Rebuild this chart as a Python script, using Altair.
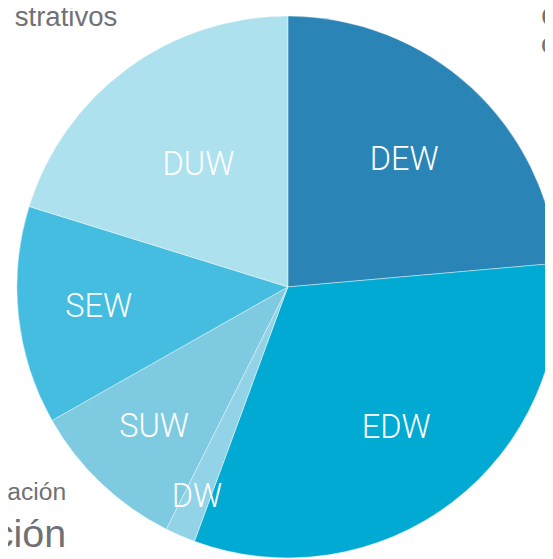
import altair as alt
import pandas as pd

# ---- data ----
categories = ["DEW", "EDW", "DW", "SUW", "SEW", "DUW"]
shares = [23.6, 32.0, 1.8, 9.4, 13.0, 20.2]

# ---- layout / style (kept separate from data) ----
slice_colors = ["#2A85B6", "#00AAD2", "#92D3E8", "#7ECAE1", "#44BDE0", "#ADE1EE"]
label_radius = [175, 181, 232, 197, 193, 153]
CX, CY, R = 284, 279, 275
W, H = 545, 551

df = pd.DataFrame({
    "cat": categories,
    "share": shares,
    "order": list(range(len(categories))),
    "lr": label_radius,
})

color_scale = alt.Scale(domain=categories, range=slice_colors)

arcs = alt.Chart(df).mark_arc(radius=R, stroke="white", strokeWidth=0.6, strokeOpacity=0.7).encode(
    theta=alt.Theta("share:Q", stack=True),
    order=alt.Order("order:Q"),
    color=alt.Color("cat:N", scale=color_scale, legend=None),
    x=alt.value(CX),
    y=alt.value(CY),
)

labels = alt.Chart(df).transform_window(
    cum="sum(share)", sort=[alt.SortField("order")], frame=[None, 0]
).transform_joinaggregate(
    total="sum(share)"
).transform_calculate(
    mid="(datum.cum - datum.share / 2) / datum.total"
).mark_text(
    font="Roboto, Liberation Sans, sans-serif",
    fontSize=33,
    fontWeight=300,
    color="white",
    align="center",
    baseline="middle",
).encode(
    theta=alt.Theta("mid:Q", scale=alt.Scale(domain=[0, 1]), stack=None),
    radius=alt.Radius("lr:Q", scale=None),
    text="cat:N",
    x=alt.value(CX),
    y=alt.value(CY),
)

GRAY = "#707174"
BGFONT = "Liberation Sans, Helvetica, Arial, sans-serif"

def bg(txt, x, y, size, align="left"):
    return alt.Chart(pd.DataFrame({"t": [txt]})).mark_text(
        font=BGFONT, fontSize=size, color=GRAY, align=align, baseline="alphabetic"
    ).encode(text="t:N", x=alt.value(x), y=alt.value(y))

bg_layers = [
    bg("strativos", 111, 14, 28, "right"),
    bg("ación", 59, 495, 25, "right"),
    bg("ción", 59, 543, 40, "right"),
    bg("C", 541, 14, 28),
    bg("c", 541, 42, 28),
]

chart = alt.layer(*bg_layers, arcs, labels).resolve_scale(theta="independent").properties(
    width=W, height=H, autosize=alt.AutoSizeParams(type="none"), padding=0
).configure_view(stroke=None)

chart.save("out.html", embed_options={"renderer": "svg", "actions": False})
